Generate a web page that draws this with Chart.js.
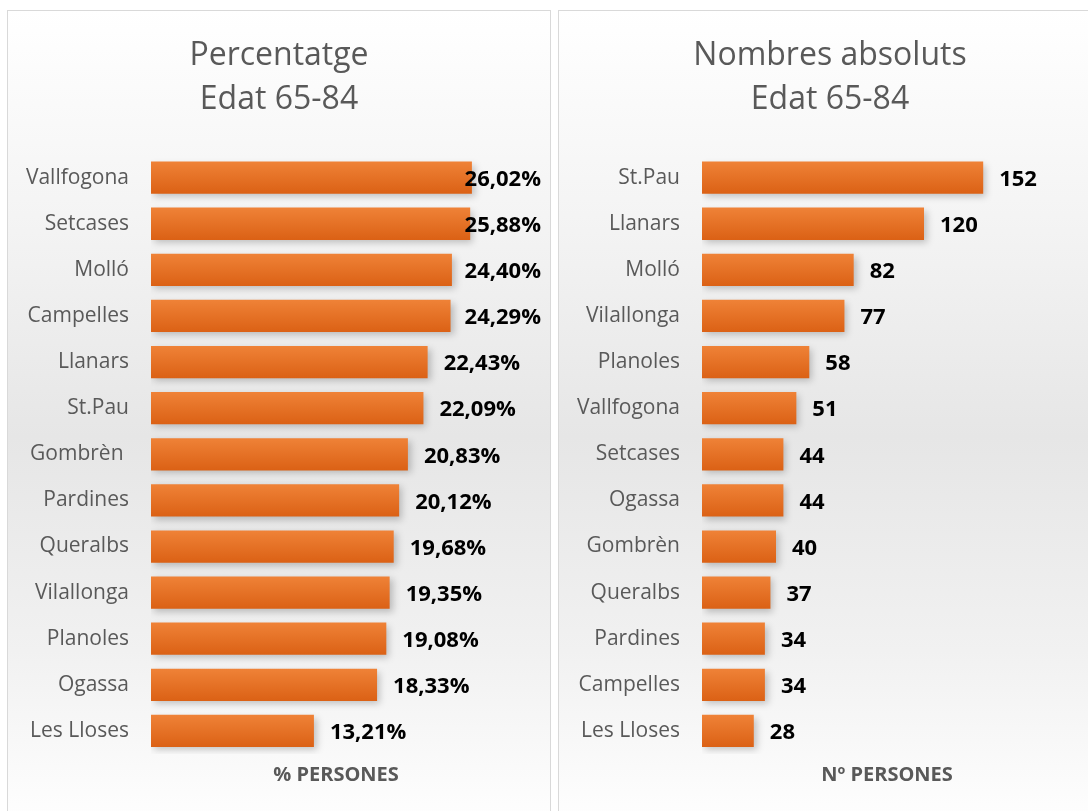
<!DOCTYPE html>
<html>
<head>
<meta charset="utf-8">
<script src="https://cdn.jsdelivr.net/npm/chart.js@4.4.1/dist/chart.umd.min.js"></script>
<style>
  html, body { margin: 0; padding: 0; background: #fff; }
  body { width: 1088px; height: 811px; position: relative; overflow: hidden; font-family: "Open Sans", sans-serif; }
  .panel {
    position: absolute; top: 10px; height: 820px;
    border: 1px solid #d9d9d9;
    background: linear-gradient(to bottom, #ffffff 0%, #f4f4f4 25%, #e6e6e6 52%, #f1f1f1 78%, #ffffff 100%);
  }
  #p1 { left: 7px; width: 542px; }
  #p2 { left: 558px; width: 560px; }
  .panel canvas { position: absolute; left: 0; top: 0; }
</style>
</head>
<body>
<div class="panel" id="p1"><canvas id="c1" width="542" height="800"></canvas></div>
<div class="panel" id="p2"><canvas id="c2" width="542" height="800"></canvas></div>
<script>
// dades
const pobles1 = ["Vallfogona", "Setcases", "Molló", "Campelles", "Llanars", "St.Pau", "Gombrèn ", "Pardines", "Queralbs", "Vilallonga", "Planoles", "Ogassa", "Les Lloses"];
const percentatge = [26.02, 25.88, 24.40, 24.29, 22.43, 22.09, 20.83, 20.12, 19.68, 19.35, 19.08, 18.33, 13.21];

const pobles2 = ["St.Pau", "Llanars", "Molló", "Vilallonga", "Planoles", "Vallfogona", "Setcases", "Ogassa", "Gombrèn", "Queralbs", "Pardines", "Campelles", "Les Lloses"];
const absoluts = [152, 120, 82, 77, 58, 51, 44, 44, 40, 37, 34, 34, 28];

const titol1 = ["Percentatge", "Edat 65-84"];
const titol2 = ["Nombres absoluts", "Edat 65-84"];
const eix1 = "% PERSONES";
const eix2 = "Nº PERSONES";

const gris = "#595959";
const FONT = "'Open Sans', sans-serif";

// etiquetes de dades al final de cada barra
const etiquetes = {
  id: "etiquetes",
  afterDatasetsDraw(chart, args, opts) {
    const ctx = chart.ctx;
    const meta = chart.getDatasetMeta(0);
    const limit = chart.chartArea.right + opts.clamp;
    ctx.save();
    ctx.font = "bold 22px " + FONT;
    ctx.fillStyle = "#000";
    ctx.textBaseline = "middle";
    meta.data.forEach((bar, i) => {
      const txt = opts.format(chart.data.datasets[0].data[i]);
      const w = ctx.measureText(txt).width;
      const x = Math.min(bar.x + 16, limit - w);
      ctx.fillText(txt, x, bar.y + 2);
    });
    ctx.restore();
  }
};

// ombra suau de les barres
const ombra = {
  id: "ombra",
  beforeDatasetsDraw(chart) {
    const ctx = chart.ctx;
    ctx.save();
    ctx.shadowColor = "rgba(0,0,0,0.22)";
    ctx.shadowBlur = 7;
    ctx.shadowOffsetX = 3;
    ctx.shadowOffsetY = 3;
  },
  afterDatasetsDraw(chart) {
    chart.ctx.restore();
  }
};

function degradat(context) {
  const chart = context.chart;
  const y = chart.scales.y;
  if (!y || context.dataIndex === undefined) return "#e87228";
  const c = y.getPixelForValue(context.dataIndex);
  if (!isFinite(c)) return "#e87228";
  const h = 16;
  const g = chart.ctx.createLinearGradient(0, c - h, 0, c + h);
  g.addColorStop(0, "#ef8237");
  g.addColorStop(1, "#db6115");
  return g;
}

function crearGrafic(id, labels, values, titol, eix, max, format) {
  return new Chart(document.getElementById(id), {
    type: "bar",
    data: {
      labels: labels,
      datasets: [{
        data: values,
        backgroundColor: degradat,
        borderWidth: 0,
        barPercentage: 0.7,
        categoryPercentage: 1
      }]
    },
    plugins: [ombra, etiquetes],
    options: {
      indexAxis: "y",
      responsive: false,
      animation: false,
      layout: { padding: { left: 0, right: 0, top: 0, bottom: 20 } },
      plugins: {
        legend: { display: false },
        tooltip: { enabled: false },
        title: {
          display: true,
          text: titol,
          color: gris,
          font: { family: FONT, size: 32, weight: "normal", lineHeight: 1.4 },
          padding: { top: 22, bottom: 32 }
        },
        etiquetes: { format: format, clamp: 20 }
      },
      scales: {
        x: {
          min: 0,
          max: max,
          grid: { display: false, drawTicks: false },
          border: { display: false },
          ticks: { display: false },
          title: {
            display: true,
            text: eix,
            color: gris,
            font: { family: FONT, size: 20, weight: "bold", lineHeight: 1.2 },
            padding: { top: 9, bottom: 4 }
          }
        },
        y: {
          grid: { display: false, drawTicks: false },
          border: { display: false },
          ticks: {
            color: gris,
            padding: 22,
            font: { family: FONT, size: 21 }
          },
          afterFit(scale) { scale.width = 143; }
        },
        // eix buit a la dreta per deixar marge i centrar el títol
        y2: {
          type: "category",
          position: "right",
          grid: { display: false, drawTicks: false },
          border: { display: false },
          ticks: { display: false },
          afterFit(scale) { scale.width = 29; }
        }
      }
    }
  });
}

crearGrafic("c1", pobles1, percentatge, titol1, eix1, 30,
  v => v.toFixed(2).replace(".", ",") + "%");
crearGrafic("c2", pobles2, absoluts, titol2, eix2, 200,
  v => String(v));
</script>
</body>
</html>
